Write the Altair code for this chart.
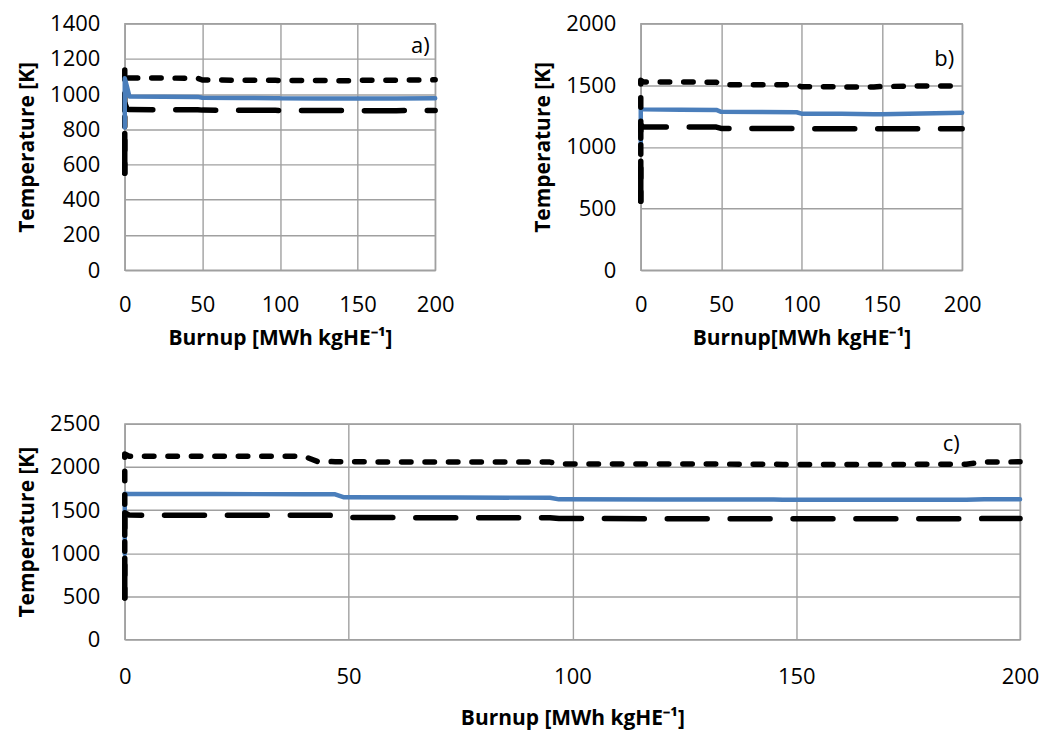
import altair as alt
import pandas as pd

# ---------------- data ----------------
# panel a)
burnup_a = [0, 0, 1.5, 3, 25, 47, 50, 75, 97, 100, 125, 147, 150, 175, 200]
short_a = [550, 1150, 1092, 1091, 1091, 1090, 1080, 1079, 1078, 1077, 1077, 1076, 1078, 1079, 1081]
blue_a = [810, 1090, 1040, 986, 985, 984, 979, 978, 977, 976, 975, 975, 975, 975, 976]
long_a = [550, 950, 915, 912, 911, 911, 909, 908, 908, 907, 907, 906, 906, 906, 907]

# panel b)
burnup_b = [0, 0, 1.5, 25, 47, 50, 75, 97, 100, 125, 145, 150, 175, 200]
short_b = [560, 1540, 1527, 1527, 1525, 1505, 1505, 1503, 1488, 1487, 1487, 1490, 1494, 1495]
blue_b = [990, 1306, 1305, 1302, 1300, 1285, 1283, 1281, 1270, 1269, 1266, 1266, 1272, 1278]
long_b = [560, 1180, 1162, 1162, 1161, 1150, 1149, 1149, 1148, 1148, 1147, 1147, 1148, 1148]

# panel c)
burnup_c = [0, 0, 1, 20, 40, 43, 47, 49, 75, 95, 97, 120, 145, 147, 170, 188, 192, 200]
short_c = [480, 2150, 2126, 2125, 2124, 2065, 2062, 2060, 2058, 2057, 2035, 2034, 2033, 2030, 2030, 2032, 2058, 2060]
blue_c = [990, 1690, 1688, 1686, 1685, 1684, 1683, 1648, 1646, 1644, 1625, 1624, 1623, 1620, 1620, 1621, 1625, 1626]
long_c = [480, 1470, 1442, 1441, 1440, 1440, 1439, 1414, 1412, 1411, 1402, 1401, 1400, 1400, 1400, 1400, 1402, 1403]

x_ticks = [0, 50, 100, 150, 200]
y_ticks_a = [0, 200, 400, 600, 800, 1000, 1200, 1400]
y_ticks_b = [0, 500, 1000, 1500, 2000]
y_ticks_c = [0, 500, 1000, 1500, 2000, 2500]

title_x_a = "Burnup [MWh kgHE⁻¹]"
title_x_b = "Burnup[MWh kgHE⁻¹]"
title_y = "Temperature [K]"

BLUE = "#4a7ebb"
BLACK = "#000000"
GRID = "#a0a0a0"
FONT = "Open Sans"

AXIS_STYLE = dict(
    grid=True, gridColor=GRID, gridWidth=1.4, domain=False, ticks=False, format="d",
    labelFlush=False, labelFont=FONT, labelFontSize=22, labelColor=BLACK,
    titleFont=FONT, titleFontSize=21, titleFontWeight="bold", titleColor=BLACK,
)


def series_df(burnup, temp):
    return pd.DataFrame({"burnup": burnup, "temp": temp, "idx": list(range(len(burnup)))})


def panel(burnup, short, blue, long_, y_ticks, xtitle, label, label_pos, w, h, blue_on_top, xlabel_pad, xtitle_pad):
    xenc = alt.X(
        "burnup:Q",
        scale=alt.Scale(domain=[0, 200], nice=False, zero=False),
        axis=alt.Axis(values=x_ticks, title=xtitle, labelPadding=xlabel_pad, titlePadding=xtitle_pad, **AXIS_STYLE),
    )
    yenc = alt.Y(
        "temp:Q",
        scale=alt.Scale(domain=[y_ticks[0], y_ticks[-1]], nice=False),
        axis=alt.Axis(values=y_ticks, title=title_y, labelPadding=25, titlePadding=12, **AXIS_STYLE),
    )

    def line(temp, color, width, dash=None):
        kw = dict(color=color, strokeWidth=width, strokeCap="round", strokeJoin="round")
        if dash is not None:
            kw["strokeDash"] = dash
        return alt.Chart(series_df(burnup, temp)).mark_line(**kw).encode(
            x=xenc, y=yenc, order="idx:Q"
        )

    l_short = line(short, BLACK, 5.5, [9.5, 14])
    l_long = line(long_, BLACK, 5.5, [40, 23])
    l_blue = line(blue, BLUE, 4.5)

    txt = alt.Chart(pd.DataFrame({"burnup": [label_pos[0]], "temp": [label_pos[1]], "label": [label]})).mark_text(
        align="right", baseline="alphabetic", fontSize=22, font=FONT, color=BLACK
    ).encode(x=xenc, y=yenc, text="label:N")

    layers = [l_short, l_long, l_blue] if blue_on_top else [l_blue, l_short, l_long]
    return alt.layer(*layers, txt).properties(width=w, height=h)


pa = panel(burnup_a, short_a, blue_a, long_a, y_ticks_a, title_x_a, "a)", (196.5, 1231), 311, 247, True, 24, 12)
pb = panel(burnup_b, short_b, blue_b, long_b, y_ticks_b, title_x_b, "b)", (195, 1657), 322, 247, False, 24, 12)
pc = panel(burnup_c, short_c, blue_c, long_c, y_ticks_c, title_x_a, "c)", (186.5, 2184), 897, 216, False, 27, 20)

top = alt.hconcat(pa, pb, spacing=76)
chart = alt.vconcat(top, pc, spacing=63).properties(
    padding={"left": 15, "top": 11, "right": 5, "bottom": 5},
    background="white",
).configure_view(
    stroke=GRID, strokeWidth=1.4
)

chart.save("out.html", embed_options={"renderer": "svg", "actions": False})
